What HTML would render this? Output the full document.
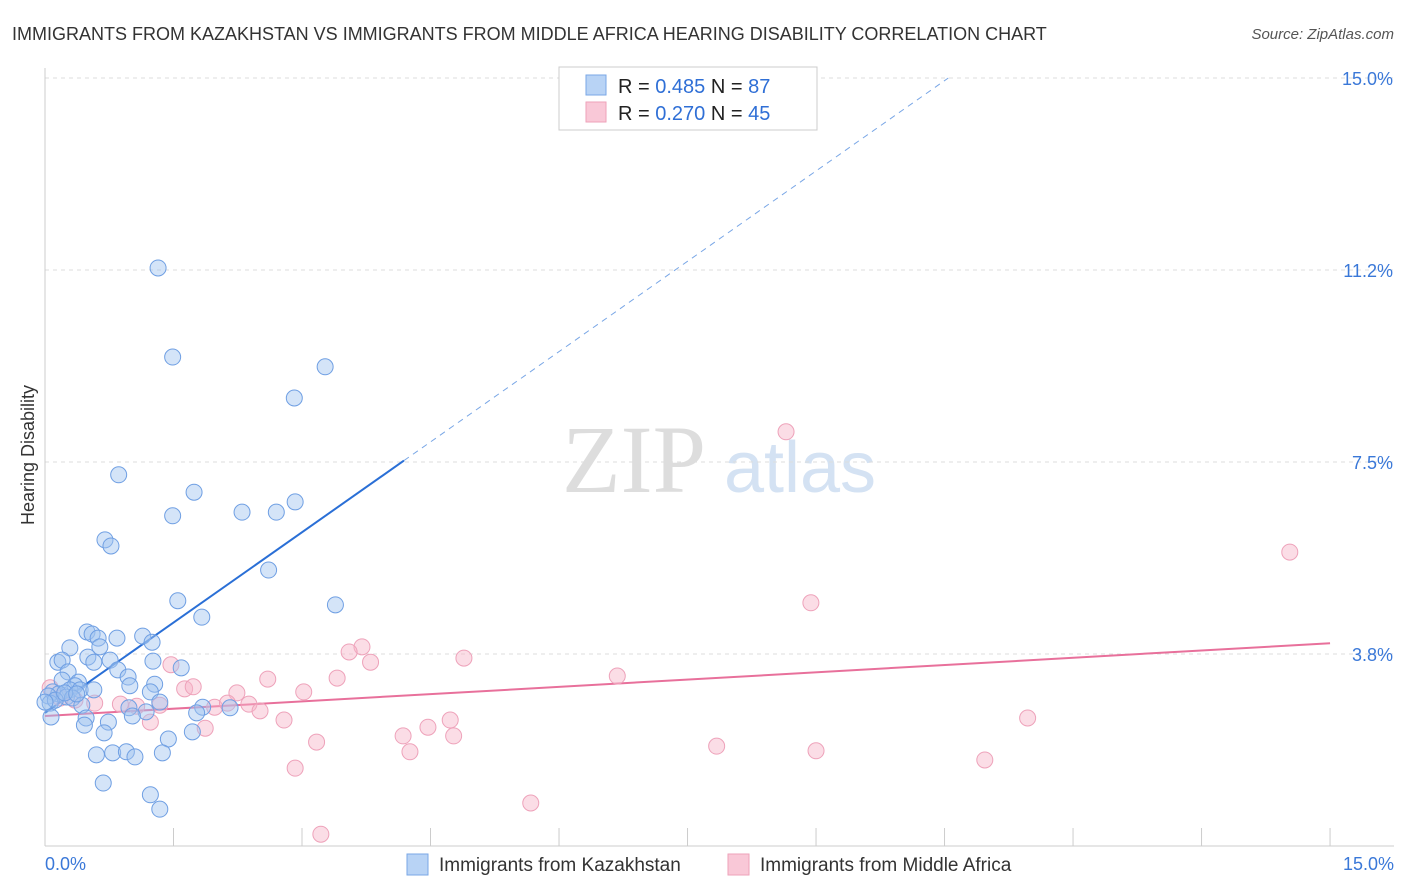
<!DOCTYPE html>
<html><head><meta charset="utf-8"><style>
body{margin:0;background:#fff;font-family:"Liberation Sans",sans-serif}
svg{display:block}
</style></head><body>
<svg id="chart" width="1406" height="892" xmlns="http://www.w3.org/2000/svg">
<text x="12" y="40" font-size="18" fill="#333">IMMIGRANTS FROM KAZAKHSTAN VS IMMIGRANTS FROM MIDDLE AFRICA HEARING DISABILITY CORRELATION CHART</text>
<text x="1394" y="39" font-size="15" fill="#555" font-style="italic" text-anchor="end">Source: ZipAtlas.com</text>
<text x="34" y="455" font-size="18" fill="#333" transform="rotate(-90 34 455)" text-anchor="middle">Hearing Disability</text>
<text x="634" y="492" font-size="96" fill="#ddd" font-family="Liberation Serif" text-anchor="middle">ZIP</text>
<text x="800" y="492" font-size="72" fill="#d4e2f3" text-anchor="middle">atlas</text>
<g id="grid"></g><g id="axes"></g><g id="lines"></g><g id="pts"></g>
<g>
<rect x="559" y="67" width="258" height="63" fill="#fff" stroke="#ccc"/>
<rect x="586" y="75" width="20" height="20" fill="#b8d3f5" stroke="#7aa7e6"/>
<rect x="586" y="102" width="20" height="20" fill="#f9c8d7" stroke="#eea2ba"/>
<text x="618" y="93" font-size="20" fill="#222">R = <tspan fill="#2f6fd6">0.485</tspan>   N = <tspan fill="#2f6fd6">87</tspan></text>
<text x="618" y="120" font-size="20" fill="#222">R = <tspan fill="#2f6fd6">0.270</tspan>   N = <tspan fill="#2f6fd6">45</tspan></text>
</g>
<g>
<rect x="407" y="854" width="21" height="21" fill="#b8d3f5" stroke="#7aa7e6"/>
<text x="439" y="871" font-size="19" fill="#333">Immigrants from Kazakhstan</text>
<rect x="728" y="854" width="21" height="21" fill="#f9c8d7" stroke="#eea2ba"/>
<text x="760" y="871" font-size="19" fill="#333">Immigrants from Middle Africa</text>
</g>
</svg>
<script>
const blueX=[1.32,1.49,3.27,2.91,0.86,1.74,2.92,1.49,2.30,2.70,0.70,0.77,2.61,3.39,1.55,1.83,0.49,0.55,1.14,0.62,0.84,1.25,0.29,0.64,0.50,0.76,1.26,0.15,0.20,0.57,1.59,0.85,0.27,0.97,0.20,0.39,0.99,1.28,0.35,0.29,0.41,0.57,0.09,0.16,0.04,0.25,0.32,1.23,1.34,0.06,0.43,1.84,2.16,0.98,1.18,1.77,1.02,0.48,0.07,0.74,0.46,0.69,1.44,1.72,0.60,0.79,0.95,1.05,1.37,0.68,1.23,1.34,0.12,0.23,0.00,0.37];
const blueY=[11.29,9.55,9.36,8.75,7.25,6.91,6.72,6.45,6.52,6.52,5.98,5.86,5.39,4.71,4.79,4.47,4.18,4.14,4.10,4.06,4.06,3.98,3.87,3.89,3.69,3.63,3.61,3.59,3.63,3.59,3.48,3.44,3.40,3.30,3.24,3.20,3.13,3.16,3.13,3.05,3.05,3.05,3.01,2.97,2.93,2.91,2.89,3.01,2.81,2.79,2.75,2.71,2.70,2.70,2.62,2.60,2.54,2.50,2.52,2.42,2.36,2.21,2.09,2.23,1.78,1.82,1.84,1.74,1.82,1.23,1.00,0.72,2.85,2.99,2.81,2.97];
const pinkX=[8.65,14.53,8.94,3.70,3.55,3.80,4.89,1.47,2.60,3.41,6.68,1.63,1.73,2.24,3.02,0.06,0.58,0.88,1.07,1.98,2.13,2.38,2.51,1.34,0.35,1.23,1.87,2.79,4.73,4.47,4.18,4.77,3.17,4.26,7.84,9.00,11.47,10.97,2.92,5.67,3.22,0.18];
const pinkY=[8.09,5.74,4.75,3.89,3.79,3.59,3.67,3.54,3.26,3.28,3.32,3.07,3.11,2.99,3.01,3.09,2.79,2.77,2.73,2.71,2.79,2.77,2.64,2.75,2.85,2.42,2.30,2.46,2.46,2.32,2.15,2.15,2.03,1.84,1.95,1.86,2.50,1.68,1.52,0.84,0.23,2.89];
const yTicks=[3.75,7.5,11.25,15];
const yTickLabels=["3.8%","7.5%","11.2%","15.0%"];
const blueTrend=[2.6,1.176]; // intercept, slope
const pinkTrend=[2.54,0.0947];
const X=v=>45+v*85.67, Y=v=>846-v*51.2;
const NS="http://www.w3.org/2000/svg";
function mk(p,t,a){const e=document.createElementNS(NS,t);for(const k in a)e.setAttribute(k,a[k]);document.getElementById(p).appendChild(e);return e;}
yTicks.forEach((t,i)=>{
 const g=mk('grid','line',{x1:45,x2:1394,y1:Y(t),y2:Y(t),stroke:'#ddd','stroke-dasharray':'4 4'});
 
 
 const l=mk('axes','text',{x:1393,y:Y(t)+7,'font-size':18,fill:'#3a78d8','text-anchor':'end'});l.textContent=yTickLabels[i];
 
 
});
const ax=mk('axes','line',{x1:45,x2:1394,y1:846,y2:846,stroke:'#ccc'});


const ay=mk('axes','line',{x1:45,x2:45,y1:68,y2:846,stroke:'#ccc'});


for(let i=1;i<=10;i++){const t=mk('axes','line',{x1:X(i*1.5),x2:X(i*1.5),y1:828,y2:846,stroke:'#ccc'});
 
 }
const x0=mk('axes','text',{x:45,y:870,'font-size':18,fill:'#3a78d8'});x0.textContent="0.0%";


const x1=mk('axes','text',{x:1394,y:870,'font-size':18,fill:'#3a78d8','text-anchor':'end'});x1.textContent="15.0%";


const bEnd=Math.max(...blueX)+0.8;
const bl=mk('lines','line',{x1:X(0),y1:Y(blueTrend[0]),x2:X(bEnd),y2:Y(blueTrend[0]+blueTrend[1]*bEnd),stroke:'#2a6fd6','stroke-width':2});


const bxe=(15-blueTrend[0])/blueTrend[1];
const bd=mk('lines','line',{x1:X(bEnd),y1:Y(blueTrend[0]+blueTrend[1]*bEnd),x2:X(bxe),y2:Y(15),stroke:'#7aa7e6','stroke-width':1,'stroke-dasharray':'6 5'});


const pl=mk('lines','line',{x1:X(0),y1:Y(pinkTrend[0]),x2:X(15),y2:Y(pinkTrend[0]+pinkTrend[1]*15),stroke:'#e8709b','stroke-width':2});


pinkX.forEach((v,i)=>{const c=mk('pts','circle',{cx:X(v),cy:Y(pinkY[i]),r:8,fill:'rgba(246,180,200,0.45)',stroke:'#eea2ba','stroke-width':1});
 
 });
blueX.forEach((v,i)=>{const c=mk('pts','circle',{cx:X(v),cy:Y(blueY[i]),r:8,fill:'rgba(160,195,240,0.45)',stroke:'#6f9fe3','stroke-width':1});
 
 });
</script>
</body></html>
